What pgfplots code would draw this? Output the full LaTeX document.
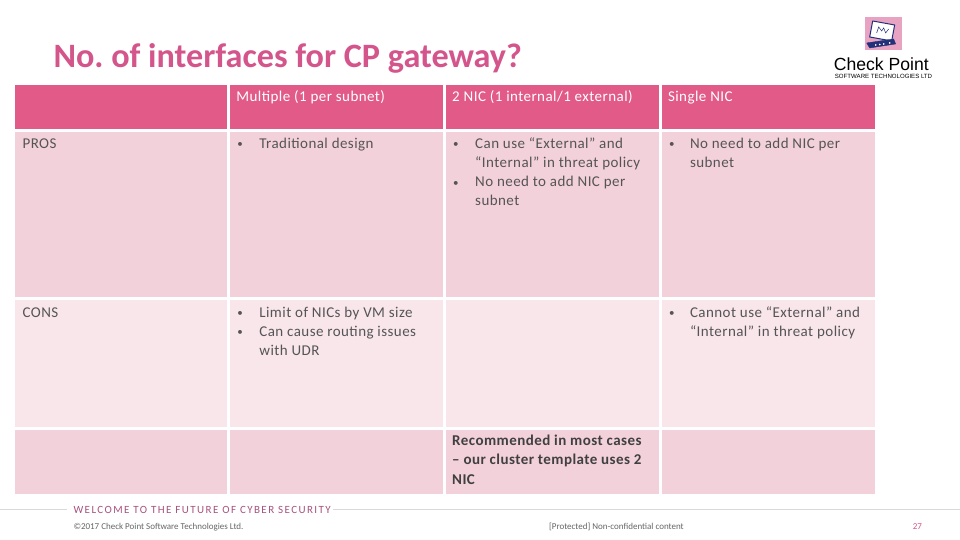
\documentclass[border=0pt]{standalone}
\usepackage{pgfplots}
\pgfplotsset{compat=1.18}
\usepackage{fontspec}
\setmainfont{Carlito}
\newfontfamily\arial{Liberation Sans}
\newfontfamily\spaced[LetterSpace=13]{Carlito}
\newfontfamily\calib[LetterSpace=3]{Carlito}
\frenchspacing
\definecolor{hdr}{HTML}{E15A88}
\definecolor{ttl}{HTML}{D4558B}
\definecolor{rowA}{HTML}{F3D1DA}
\definecolor{rowB}{HTML}{F9E6EB}
\definecolor{body}{HTML}{555555}
\definecolor{bold}{HTML}{404040}
\definecolor{foot}{HTML}{A8527F}
\definecolor{logo}{HTML}{E8A2C2}
\definecolor{navy}{HTML}{23307A}
\newcommand\cell[5]{\addplot[fill=#5,draw=none,forget plot] coordinates {(#1,#2)(#3,#2)(#3,#4)(#1,#4)};}
\newcommand\txt[3]{\node[anchor=base west,inner sep=0pt,text=body,font=\calib\fontsize{15}{18}\selectfont] at (axis cs:#1,#2) {#3};}
\newcommand\bul[2]{\node[anchor=base west,inner sep=0pt,text=body,font=\calib\fontsize{11}{13}\selectfont] at (axis cs:#1,#2) {\textbullet};}
\begin{document}
\begin{tikzpicture}
\begin{axis}[width=960pt,height=540pt,scale only axis,xmin=0,xmax=960,ymin=0,ymax=540,y dir=reverse,hide axis,clip=false]
\cell{0}{0}{960}{540}{white}
% header row
\cell{15}{85}{227}{129}{hdr}
\cell{230}{85}{443}{129}{hdr}
\cell{446}{85}{659}{129}{hdr}
\cell{662}{85}{875}{129}{hdr}
% PROS row
\cell{15}{132}{227}{297}{rowA}
\cell{230}{132}{443}{297}{rowA}
\cell{446}{132}{659}{297}{rowA}
\cell{662}{132}{875}{297}{rowA}
% CONS row
\cell{15}{300}{227}{427}{rowB}
\cell{230}{300}{443}{427}{rowB}
\cell{446}{300}{659}{427}{rowB}
\cell{662}{300}{875}{427}{rowB}
% last row
\cell{15}{430}{227}{494}{rowA}
\cell{230}{430}{443}{494}{rowA}
\cell{446}{430}{659}{494}{rowA}
\cell{662}{430}{875}{494}{rowA}
% footer lines
\addplot[draw=black!15,line width=0.8pt,forget plot] coordinates {(0,510)(67,510)};
\addplot[draw=black!15,line width=0.8pt,forget plot] coordinates {(333,510)(960,510)};
% logo
\cell{865}{17}{902}{50}{logo}
\addplot[fill=white,draw=navy,line width=1pt,forget plot] coordinates {(873,21)(895,25)(892,41)(870,37)(873,21)};
\addplot[draw=navy,line width=0.5pt,forget plot] coordinates {(877,33)(879,27)(882,31)(884,28)(886,33)(889,29)};
\addplot[fill=navy,draw=navy,forget plot] coordinates {(867,43)(894,39)(896,44)(870,48)(867,43)};
\addplot[only marks,mark=*,mark size=0.6pt,color=white,forget plot] coordinates {(876,45)(880,44.5)(884,44)(890,43)};
\node[anchor=base west,inner sep=0pt,font=\arial\fontsize{17.6}{20}\selectfont] at (axis cs:834,71) {Check Point};
\node[anchor=base west,inner sep=0pt,font=\arial\fontsize{6.1}{7}\selectfont] at (axis cs:835,78.5) {SOFTWARE TECHNOLOGIES LTD};
% title
\node[anchor=base west,inner sep=0pt,text=ttl,font=\bfseries\fontsize{34.2}{38}\selectfont] at (axis cs:53,68) {No. of interfaces for CP gateway?};
% header text
\node[anchor=base west,inner sep=0pt,text=white,font=\calib\fontsize{15}{18}\selectfont] at (axis cs:236,102) {Multiple (1 per subnet)};
\node[anchor=base west,inner sep=0pt,text=white,font=\calib\fontsize{15}{18}\selectfont] at (axis cs:452,102) {2 NIC (1 internal/1 external)};
\node[anchor=base west,inner sep=0pt,text=white,font=\calib\fontsize{15}{18}\selectfont] at (axis cs:668,102) {Single NIC};
% PROS
\txt{22}{149}{PROS}
\bul{237}{148}\txt{259}{149}{Traditional design}
\bul{453}{148}\txt{475}{149}{Can use “External” and}
\txt{475}{168}{“Internal” in threat policy}
\bul{453}{187}\txt{475}{187}{No need to add NIC per}
\txt{475}{206}{subnet}
\bul{669}{148}\txt{690}{149}{No need to add NIC per}
\txt{690}{168}{subnet}
% CONS
\txt{22}{318}{CONS}
\bul{237}{317}\txt{259}{318}{Limit of NICs by VM size}
\bul{237}{336}\txt{259}{337}{Can cause routing issues}
\txt{259}{356}{with UDR}
\bul{669}{317}\txt{690}{318}{Cannot use “External” and}
\txt{690}{337}{“Internal” in threat policy}
% last row
\node[anchor=base west,inner sep=0pt,text=bold,font=\calib\bfseries\fontsize{15}{18}\selectfont] at (axis cs:452,446) {Recommended in most cases};
\node[anchor=base west,inner sep=0pt,text=bold,font=\calib\bfseries\fontsize{15}{18}\selectfont] at (axis cs:452,465) {– our cluster template uses 2};
\node[anchor=base west,inner sep=0pt,text=bold,font=\calib\bfseries\fontsize{15}{18}\selectfont] at (axis cs:452,485) {NIC};
% footer text
\node[anchor=base west,inner sep=0pt,text=foot,font=\spaced\fontsize{11}{13}\selectfont] at (axis cs:73,514) {WELCOME TO THE FUTURE OF CYBER SECURITY};
\node[anchor=base west,inner sep=0pt,text=black!60,font=\fontsize{9}{11}\selectfont] at (axis cs:73,530) {©2017 Check Point Software Technologies Ltd.};
\node[anchor=base west,inner sep=0pt,text=black!60,font=\fontsize{9}{11}\selectfont] at (axis cs:549,530) {[Protected] Non-confidential content};
\node[anchor=base west,inner sep=0pt,text=ttl,font=\fontsize{9}{11}\selectfont] at (axis cs:913,530) {27};
\end{axis}
\end{tikzpicture}
\end{document}
